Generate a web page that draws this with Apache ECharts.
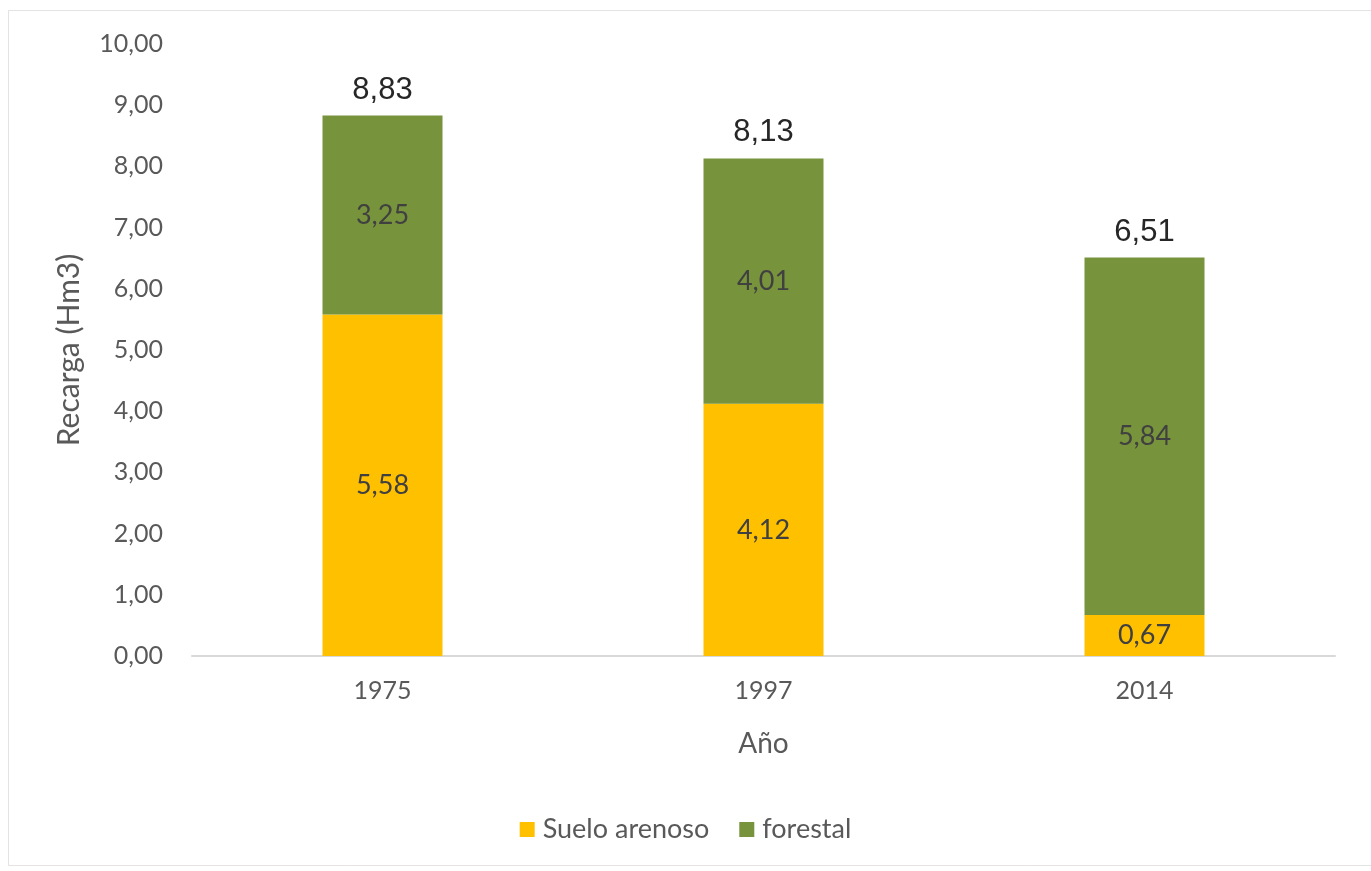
<!DOCTYPE html>
<html>
<head>
<meta charset="utf-8">
<script src="https://cdn.jsdelivr.net/npm/echarts@6/dist/echarts.min.js"></script>
<style>
html,body{margin:0;padding:0;background:#fff;}
#c{width:1371px;height:871px;}
</style>
</head>
<body>
<div id="c"></div>
<script>
var categories = ['1975', '1997', '2014'];
var sueloArenoso = [5.58, 4.12, 0.67];
var forestal = [3.25, 4.01, 5.84];
var totals = [8.83, 8.13, 6.51];
var yTicks = { min: 0, max: 10, interval: 1 };

function fmt(v) { return v.toFixed(2).replace('.', ','); }

var chart = echarts.init(document.getElementById('c'));
chart.setOption({
  animation: false,
  backgroundColor: '#fff',
  graphic: [{
    type: 'rect', left: 6, top: 8, shape: { width: 1363, height: 855 },
    style: { fill: 'none', stroke: '#e3e3e3', lineWidth: 1 }, silent: true
  }],
  grid: { left: 192, right: 36, top: 44, bottom: 215 },
  legend: {
    data: ['Suelo arenoso', 'forestal'],
    bottom: 23, left: 'center',
    itemWidth: 15, itemHeight: 15, itemGap: 30,
    icon: 'rect',
    textStyle: { fontFamily: 'Lato', fontSize: 27, color: '#595959', padding: [0, 0, 0, 3] }
  },
  xAxis: {
    type: 'category', data: categories,
    name: 'Año', nameLocation: 'middle', nameGap: 74,
    nameTextStyle: { fontFamily: 'Lato', fontSize: 28, color: '#595959' },
    axisLine: { lineStyle: { color: '#d9d9d9', width: 2 } },
    axisTick: { show: false },
    axisLabel: { margin: 22, fontFamily: 'Lato', fontSize: 25, color: '#595959' }
  },
  yAxis: {
    type: 'value', min: yTicks.min, max: yTicks.max, interval: yTicks.interval,
    name: 'Recarga (Hm3)', nameLocation: 'middle', nameGap: 108, nameRotate: 90,
    nameTextStyle: { fontFamily: 'Lato', fontSize: 30, color: '#595959' },
    axisLine: { show: false }, axisTick: { show: false },
    splitLine: { show: false },
    axisLabel: { margin: 29, fontFamily: 'Lato', fontSize: 25, color: '#595959', formatter: fmt }
  },
  series: [
    {
      name: 'Suelo arenoso', type: 'bar', stack: 's', data: sueloArenoso, barWidth: 120,
      itemStyle: { color: '#FFC000' },
      label: { show: true, position: 'inside', fontFamily: 'Lato', fontSize: 27, color: '#404040', formatter: function (p) { return fmt(p.value); } }
    },
    {
      name: 'forestal', type: 'bar', stack: 's', data: forestal, barWidth: 120,
      itemStyle: { color: '#77933C' },
      label: { show: true, position: 'inside', fontFamily: 'Lato', fontSize: 27, color: '#404040', formatter: function (p) { return fmt(p.value); } }
    },
    {
      name: 'Total', type: 'bar', stack: 's', barWidth: 120,
      data: totals.map(function () { return 0; }),
      itemStyle: { color: 'transparent' },
      label: {
        show: true, position: 'top', distance: 10,
        fontFamily: 'Liberation Sans', fontSize: 31, color: '#262626',
        formatter: function (p) { return fmt(totals[p.dataIndex]); }
      }
    }
  ]
});
</script>
</body>
</html>
